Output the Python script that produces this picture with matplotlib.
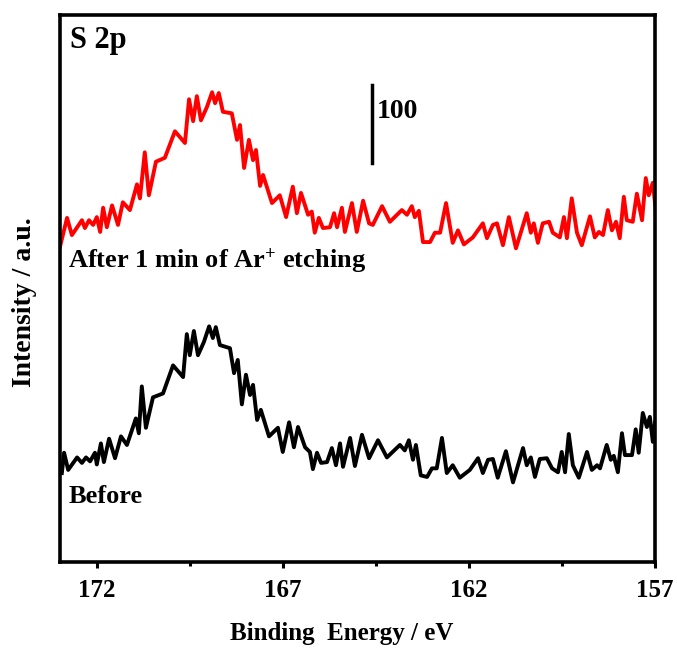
#!/usr/bin/env python3

import numpy as np
import matplotlib
matplotlib.use("Agg")
import matplotlib.pyplot as plt
from matplotlib.ticker import MultipleLocator

# S 2p spectrum before etching (binding energy eV, counts)
energy_before = [172.95, 172.89, 172.78, 172.54, 172.41, 172.30, 172.19, 172.06, 172.01, 171.90,
                 171.82, 171.68, 171.52, 171.36, 171.20, 170.96, 170.88, 170.80, 170.69, 170.50,
                 170.23, 169.96, 169.69, 169.59, 169.51, 169.40, 169.29, 169.13, 168.99, 168.89,
                 168.81, 168.70, 168.43, 168.32, 168.22, 168.11, 168.00, 167.89, 167.81, 167.70,
                 167.60, 167.38, 167.14, 167.01, 166.84, 166.71, 166.60, 166.41, 166.28, 166.20,
                 166.09, 165.98, 165.82, 165.69, 165.58, 165.47, 165.39, 165.20, 165.07, 164.88,
                 164.69, 164.45, 164.21, 163.86, 163.73, 163.62, 163.51, 163.43, 163.30, 163.13,
                 163.00, 162.87, 162.73, 162.60, 162.44, 162.25, 161.98, 161.76, 161.63, 161.49,
                 161.36, 161.23, 161.01, 160.82, 160.55, 160.45, 160.34, 160.23, 160.10, 159.91,
                 159.77, 159.61, 159.51, 159.42, 159.32, 159.21, 159.05, 158.83, 158.70, 158.56,
                 158.48, 158.30, 158.19, 158.11, 158.00, 157.89, 157.81, 157.62, 157.52, 157.44,
                 157.33, 157.22, 157.14, 157.06, 157.00]
counts_before = [127, 153, 131, 147, 140, 147, 142, 153, 138, 165,
                 141, 171, 146, 174, 163, 197, 178, 238, 185, 224,
                 229, 265, 250, 305, 278, 309, 278, 295, 315, 300,
                 314, 291, 287, 255, 272, 215, 253, 227, 240, 195,
                 208, 174, 185, 154, 192, 160, 186, 160, 154, 132,
                 153, 140, 141, 159, 137, 165, 135, 172, 136, 176,
                 146, 169, 147, 163, 156, 169, 144, 163, 124, 122,
                 133, 133, 172, 127, 137, 121, 131, 146, 127, 144,
                 145, 121, 155, 115, 159, 137, 147, 122, 145, 146,
                 133, 128, 154, 128, 177, 137, 121, 154, 131, 137,
                 133, 163, 144, 149, 128, 178, 150, 150, 183, 153,
                 204, 186, 199, 167, 192]

# S 2p spectrum after 1 min Ar+ etching
energy_after = [173.00, 172.81, 172.68, 172.41, 172.33, 172.22, 172.11, 172.01, 171.92, 171.84,
                171.74, 171.60, 171.44, 171.31, 171.12, 170.93, 170.85, 170.72, 170.61, 170.42,
                170.18, 169.91, 169.64, 169.53, 169.42, 169.32, 169.21, 169.05, 168.91, 168.83,
                168.73, 168.62, 168.38, 168.24, 168.16, 168.05, 167.92, 167.81, 167.73, 167.62,
                167.54, 167.30, 167.09, 166.92, 166.74, 166.63, 166.52, 166.33, 166.23, 166.15,
                166.04, 165.93, 165.74, 165.63, 165.55, 165.42, 165.34, 165.15, 165.02, 164.85,
                164.69, 164.59, 164.34, 164.13, 163.81, 163.67, 163.54, 163.46, 163.35, 163.24,
                163.05, 162.92, 162.78, 162.62, 162.44, 162.30, 162.14, 161.90, 161.63, 161.52,
                161.36, 161.25, 161.09, 160.93, 160.74, 160.45, 160.34, 160.26, 160.15, 160.02,
                159.85, 159.75, 159.56, 159.45, 159.37, 159.24, 159.10, 158.97, 158.75, 158.62,
                158.51, 158.40, 158.27, 158.16, 158.05, 157.95, 157.84, 157.76, 157.60, 157.49,
                157.35, 157.25, 157.17, 157.06, 156.98]
counts_after = [117, 154, 132, 151, 141, 151, 145, 155, 136, 167,
                142, 170, 145, 174, 164, 197, 179, 238, 183, 226,
                231, 265, 250, 306, 278, 310, 279, 296, 315, 301,
                314, 290, 288, 254, 273, 218, 254, 228, 241, 195,
                209, 173, 183, 155, 194, 160, 186, 158, 162, 135,
                154, 141, 142, 160, 142, 167, 136, 173, 136, 176,
                147, 145, 169, 149, 164, 158, 169, 155, 163, 123,
                123, 135, 135, 173, 122, 138, 120, 129, 147, 128,
                145, 147, 119, 155, 115, 160, 135, 147, 122, 147,
                149, 135, 129, 155, 128, 179, 135, 119, 156, 129,
                136, 132, 164, 138, 149, 128, 181, 151, 149, 185,
                151, 205, 183, 199, 164]
after_offset = 300

scale_bar_x = 164.6
scale_bar_low = 524
scale_bar_size = 100

plt.rcParams['font.family'] = ['Liberation Serif', 'DejaVu Serif']
plt.rcParams['font.weight'] = 'bold'
plt.rcParams['mathtext.fontset'] = 'custom'
plt.rcParams['mathtext.rm'] = 'Liberation Serif:bold'
plt.rcParams['mathtext.bf'] = 'Liberation Serif:bold'
plt.rcParams['mathtext.it'] = 'Liberation Serif:bold:italic'

fig = plt.figure(figsize=(6.77, 6.5), dpi=100)
ax = fig.add_axes([0.0886, 0.1354, 0.879, 0.8415])

ax.plot(energy_before, counts_before, color='black', lw=2.8, solid_joinstyle='round')
ax.plot(energy_after, np.array(counts_after) + after_offset, color='#ff0000', lw=2.8,
        solid_joinstyle='round')

# scale bar
ax.plot([scale_bar_x, scale_bar_x], [scale_bar_low, scale_bar_low + scale_bar_size],
        color='black', lw=2.5)
ax.text(164.48, scale_bar_low + 66, '100', fontsize=20, fontweight='bold', va='center', ha='left')

ax.text(172.73, 672, 'S 2p', fontsize=22, fontweight='bold', va='baseline', ha='left')
ax.text(172.78, 390, 'After 1 min of Ar$^{+}$ etching', fontsize=19, fontweight='bold',
        va='baseline', ha='left')
ax.text(172.78, 88, 'Before', fontsize=19, fontweight='bold', va='baseline', ha='left')

ax.set_xlim(173, 157)
ax.set_ylim(13, 714)
ax.xaxis.set_major_locator(MultipleLocator(5))
ax.xaxis.set_minor_locator(MultipleLocator(2.5))
ax.set_xticks([172, 167, 162, 157])
ax.set_xticks([169.5, 164.5, 159.5], minor=True)
ax.set_yticks([])
ax.tick_params(axis='x', which='major', direction='out', length=4.5, width=2.2, pad=8,
               labelsize=18)
ax.tick_params(axis='x', which='minor', direction='out', length=3, width=2.2)
for lab in ax.get_xticklabels():
    lab.set_fontweight('bold')
for sp in ax.spines.values():
    sp.set_linewidth(2.6)

fig.text(0.504, 0.016, 'Binding  Energy / eV', fontsize=18, fontweight='bold',
         ha='center', va='baseline')
fig.text(0.036, 0.535, 'Intensity / a.u.', fontsize=20, fontweight='bold',
         ha='center', va='center', rotation=90)

fig.savefig('out.png', dpi=100)
